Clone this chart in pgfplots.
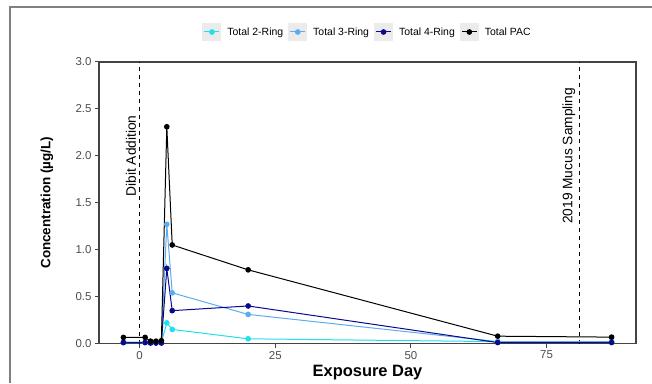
\documentclass[border=0pt]{standalone}
\usepackage{pgfplots}
\pgfplotsset{compat=1.18}
\usepackage{fontspec}
\setmainfont{Liberation Sans}
\definecolor{ringtwo}{HTML}{1EE0EE}
\definecolor{ringthree}{HTML}{5CACEE}
\definecolor{ringfour}{HTML}{0A0A8C}
\definecolor{framegray}{HTML}{444444}
\definecolor{ticktext}{HTML}{4D4D4D}
\definecolor{keybg}{HTML}{EBEBEB}
\begin{document}
\begin{tikzpicture}[x=1bp,y=1bp]
\useasboundingbox (0,0) rectangle (652,383);
\draw[color=gray, line width=1.5bp] (10,0) -- (10,376) -- (652,376);
\begin{axis}[
  at={(99bp,39.5bp)}, anchor=south west,
  width=537bp, height=281.5bp, scale only axis,
  xmin=-7.5, xmax=91.5, ymin=0, ymax=3,
  xtick={0,25,50,75},
  ytick={0,0.5,1,1.5,2,2.5,3},
  yticklabel style={/pgf/number format/.cd, fixed, fixed zerofill, precision=1},
  /pgf/number format/assume math mode=true,
  tick label style={font=\fontsize{11.5}{13}\selectfont, color=ticktext},
  tick align=outside, xtick pos=left, ytick pos=left,
  major tick length=4bp,
  tick style={color=framegray, line width=1bp},
  axis line style={color=framegray, line width=1.2bp},
  xlabel={\bfseries Exposure Day},
  ylabel={\bfseries Concentration (µg/L)},
  xlabel style={font=\fontsize{16.5}{18}\selectfont, at={(axis description cs:0.5,-0.1048)}, anchor=center},
  ylabel style={font=\fontsize{13.5}{15}\selectfont, at={(axis description cs:-0.0968,0.5)}, anchor=center},
  legend columns=4,
  legend style={at={(axis description cs:0.5,1)}, anchor=center, yshift=30bp,
    draw=none, fill=none, font=\fontsize{10.5}{12}\selectfont,
    /tikz/every odd column/.append style={column sep=4bp},
    /tikz/every even column/.append style={column sep=3bp}},
  legend image code/.code={
    \fill[keybg] (0bp,-8.5bp) rectangle (18bp,8.5bp);
    \draw[#1] (1.5bp,0bp) -- (16.5bp,0bp);
    \draw[#1, only marks] plot coordinates {(9bp,0bp)};
  },
]
\addplot[black, line width=1bp, dash pattern=on 4bp off 4bp, forget plot] coordinates {(0,0) (0,3)};
\addplot[black, line width=1bp, dash pattern=on 4bp off 4bp, forget plot] coordinates {(81,0) (81,3)};
\node[rotate=90, anchor=south, inner sep=3.5bp, font=\fontsize{13.8}{15}\selectfont] at (axis cs:0,2) {Dibit Addition};
\node[rotate=90, anchor=south, inner sep=3.5bp, font=\fontsize{13.8}{15}\selectfont] at (axis cs:81,2) {2019 Mucus Sampling};

\addplot[color=ringtwo, line width=1bp, mark=*, mark size=2.3bp] coordinates {
(-3,0.01) (1,0.01) (2,0.01) (3,0.01) (4,0.01) (5,0.22) (6,0.15) (20,0.05) (66,0.02) (87,0.02)};
\addlegendentry{Total 2-Ring}
\addplot[color=ringthree, line width=1bp, mark=*, mark size=2.3bp] coordinates {
(-3,0.015) (1,0.015) (2,0.01) (3,0.01) (4,0.01) (5,1.27) (6,0.54) (20,0.31) (66,0.02) (87,0.02)};
\addlegendentry{Total 3-Ring}
\addplot[color=ringfour, line width=1bp, mark=*, mark size=2.3bp] coordinates {
(-3,0.01) (1,0.01) (2,0.005) (3,0.005) (4,0.005) (5,0.80) (6,0.35) (20,0.40) (66,0.01) (87,0.01)};
\addlegendentry{Total 4-Ring}
\addplot[color=black, line width=1bp, mark=*, mark size=2.3bp] coordinates {
(-3,0.065) (1,0.065) (2,0.025) (3,0.025) (4,0.03) (5,2.31) (6,1.05) (20,0.785) (66,0.078) (87,0.068)};
\addlegendentry{Total PAC}
\end{axis}
\end{tikzpicture}
\end{document}
